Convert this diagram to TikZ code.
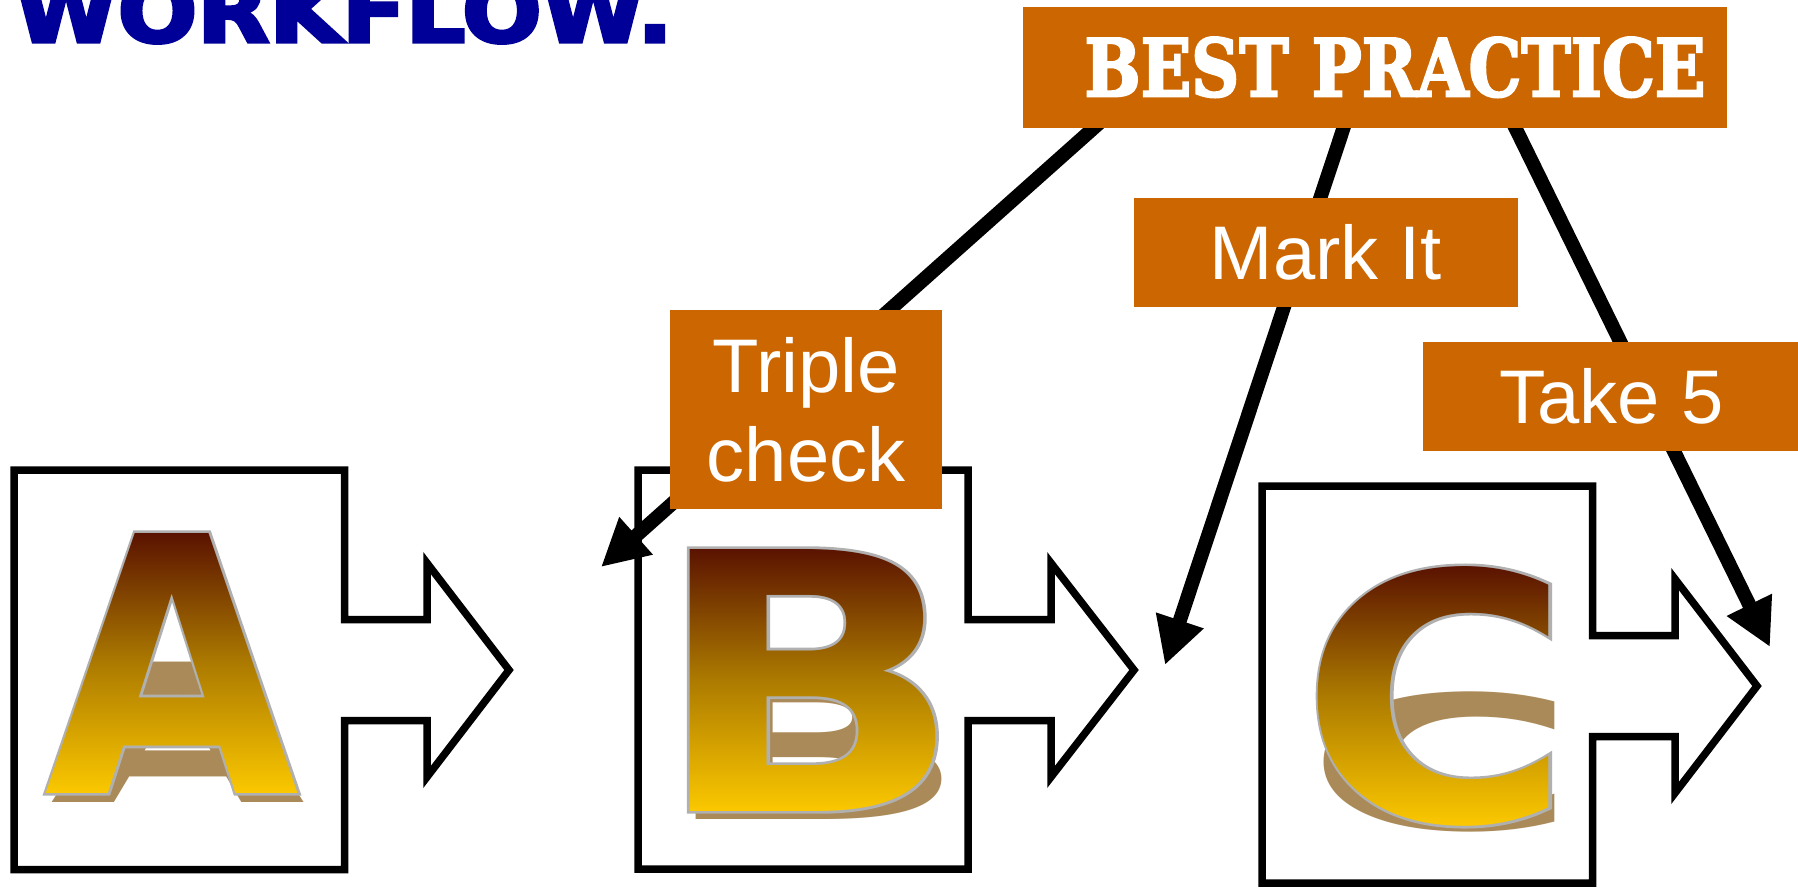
\documentclass[tikz,border=0pt]{standalone}
\usepackage{fontspec}
\usepackage{graphicx}
\usetikzlibrary{arrows.meta,fadings}
\setmainfont{Liberation Sans}
\newfontfamily\labelfont{Liberation Sans}
\newfontfamily\letterfont{DejaVu Sans}
\newfontfamily\letteroutline{DejaVu Sans}[BoldFeatures={FakeBold=1.5}]
\newfontfamily\titlefont{DejaVu Sans}[BoldFeatures={FakeBold=4}]
\newfontfamily\stencilfont{DejaVu Serif}[BoldFeatures={FakeBold=3}]
\newdimen\pxd \pxd=0.4pt
\definecolor{bporange}{RGB}{204,102,0}
\definecolor{titleblue}{RGB}{0,0,153}
\definecolor{shadowtan}{RGB}{170,138,88}
\definecolor{rimgray}{RGB}{176,176,176}
\definecolor{gradtop}{RGB}{85,12,0}
\definecolor{gradmid}{RGB}{172,122,0}
\definecolor{gradbot}{RGB}{255,204,0}
\newcommand\glyphA[1]{\resizebox{255\pxd}{260\pxd}{#1\bfseries A}}
\newcommand\glyphB[1]{\resizebox{312\pxd}{262\pxd}{#1\bfseries B}}
\newcommand\glyphC[1]{\resizebox{273\pxd}{255\pxd}{#1\bfseries C}}
\newsavebox\maskA \sbox\maskA{\color{white}\glyphA\letterfont}
\newsavebox\maskB \sbox\maskB{\color{white}\glyphB\letterfont}
\newsavebox\maskC \sbox\maskC{\color{white}\glyphC\letterfont}
\tikzset{
  callout/.style={draw=black, line width=3pt, line join=miter, fill=white},
  bparrow/.style={line width=5.6pt, -{Triangle[length=18.8pt,width=18.8pt]}},
  tag/.style={fill=bporange, inner sep=0pt, text=white,
    font=\labelfont\fontsize{30.4pt}{35.6pt}\selectfont},
  shadowglyph/.style={inner sep=0pt, text=shadowtan, anchor=base, transform shape},
  rimglyph/.style={inner sep=0pt, text=rimgray},
  goldfill/.style={top color=gradtop, bottom color=gradbot, middle color=gradmid}
}
\begin{document}
\begin{tikzpicture}[x=0.4pt, y=-0.4pt]
\pgfdeclarefading{fadeA}{\usebox\maskA}
\pgfdeclarefading{fadeB}{\usebox\maskB}
\pgfdeclarefading{fadeC}{\usebox\maskC}
\useasboundingbox (0,0) rectangle (1798,887);
\fill[white] (0,0) rectangle (1798,887);
\begin{scope}
\clip (0,0) rectangle (1798,887);

% callout shapes
\draw[callout] (14,470) -- (344.5,470) -- (344.5,619.5) -- (427,619.5) -- (427,563)
  -- (509,670) -- (427,777) -- (427,720.5) -- (344.5,720.5) -- (344.5,869.5) -- (14,869.5) -- cycle;
\draw[callout] (638,470) -- (968,470) -- (968,619.5) -- (1051,619.5) -- (1051,563)
  -- (1134,670) -- (1051,777) -- (1051,720.5) -- (968,720.5) -- (968,869) -- (638,869) -- cycle;
\draw[callout] (1262,486) -- (1592.5,486) -- (1592.5,635.5) -- (1675,635.5) -- (1675,579)
  -- (1757,686) -- (1675,793) -- (1675,736.5) -- (1592.5,736.5) -- (1592.5,883) -- (1262,883) -- cycle;

% letter A
\begin{scope}[shift={(178,802)}, yscale=0.54]
  \node[shadowglyph] (sa) at (0,0) {\glyphA\letterfont};
\end{scope}
\node[rimglyph] (la) at (172,663) {\glyphA\letteroutline};
\shade[goldfill, path fading=fadeA, fit fading=false, fading transform={shift={(172,663)}}]
  (40,525) rectangle (304,800);

% letter B
\begin{scope}[shift={(814.5,819)}, yscale=0.54]
  \node[shadowglyph] (sb) at (0,0) {\glyphB\letterfont};
\end{scope}
\node[rimglyph] (lb) at (808.5,680) {\glyphB\letteroutline};
\shade[goldfill, path fading=fadeB, fit fading=false, fading transform={shift={(808.5,680)}}]
  (645,540) rectangle (972,818);

% letter C
\begin{scope}[shift={(1442.5,829)}, yscale=0.54]
  \node[shadowglyph] (sc) at (0,0) {\glyphC\letterfont};
\end{scope}
\node[rimglyph] (lc) at (1436.5,696) {\glyphC\letteroutline};
\shade[goldfill, path fading=fadeC, fit fading=false, fading transform={shift={(1436.5,696)}}]
  (1295,558) rectangle (1580,832);

% connectors
\coordinate (s1) at (1106,117);   \coordinate (t1) at (601,567);
\coordinate (s2) at (1347,117.5); \coordinate (t2) at (1165,665);
\coordinate (s3) at (1510.5,118); \coordinate (t3) at (1770,647);
\draw[bparrow] (s1) -- (t1);
\draw[bparrow] (s2) -- (t2);
\draw[bparrow] (s3) -- (t3);

% orange tags
\node[tag, anchor=north west, minimum width=281.6pt, minimum height=48.6pt] (bp) at (1022,6)
  {\hspace*{16.4pt}\resizebox{248.4pt}{23.6pt}{\stencilfont\bfseries BEST PRACTICE}};
\node[tag, minimum width=153.5pt, minimum height=43.4pt] (mark) at (1326,252.5) {Mark It};
\node[tag, minimum width=108.8pt, minimum height=79.6pt, align=center] (triple) at (806,409.5) {Triple\\check};
\node[tag, anchor=west, minimum width=151.2pt, minimum height=43.4pt] (take) at (1422,396.5) {Take 5};

% title
\node[anchor=base west, inner sep=0pt, text=titleblue] (title) at (14,42)
  {\resizebox{263.2pt}{25.6pt}{\titlefont\bfseries WORKFLOW.}};
\end{scope}
\end{tikzpicture}
\end{document}
